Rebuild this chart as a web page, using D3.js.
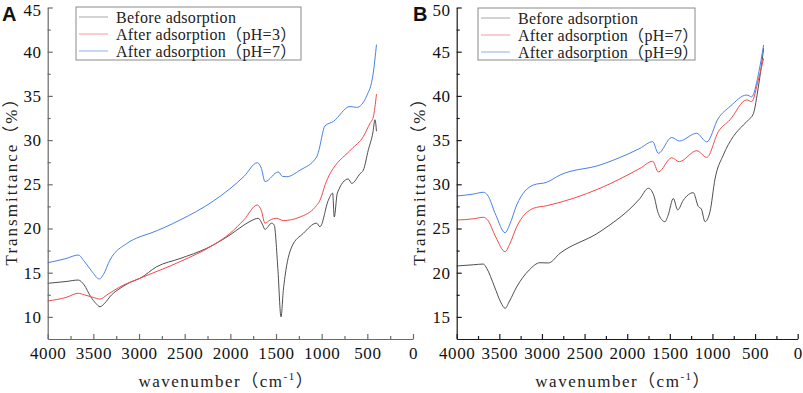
<!DOCTYPE html>
<html>
<head>
<meta charset="utf-8">
<script src="https://cdn.jsdelivr.net/npm/d3@7/dist/d3.min.js"></script>
<style>
  body { margin: 0; background: #fff; }
  svg { display: block; }
</style>
</head>
<body>
<svg id="chart" width="803" height="393"></svg>
<script>
// ---- panel A data (wavenumber cm-1, transmittance %) ----
const aBeforeWn = [4000, 3800, 3665, 3600, 3530, 3470, 3427, 3380, 3300, 3208, 3100, 2989, 2806, 2551, 2259, 2004, 1850, 1785, 1694, 1650, 1621, 1548, 1520, 1480, 1445, 1420, 1402, 1329, 1201, 1055, 1019, 927, 880, 862, 829, 709, 671, 580, 544, 489, 440, 416, 400];
const aBeforeT = [13.8, 14.0, 14.17, 13.6, 12.3, 11.5, 11.15, 11.5, 12.5, 13.23, 13.9, 14.37, 15.68, 16.6, 17.76, 19.27, 20.4, 20.8, 21.15, 20.5, 19.9, 20.6, 20.4, 15.5, 10.0, 13.0, 14.55, 17.9, 19.45, 20.6, 20.2, 23.2, 24.0, 21.3, 24.0, 25.6, 25.1, 26.2, 26.6, 28.9, 30.8, 32.3, 31.0];

const aPh3Wn = [4000, 3800, 3665, 3600, 3500, 3427, 3350, 3208, 2989, 2551, 2187, 2004, 1850, 1705, 1660, 1621, 1565, 1493, 1420, 1237, 1073, 1018, 960, 909, 873, 671, 544, 471, 435, 400];
const aPh3T = [11.8, 12.2, 12.67, 12.5, 12.2, 12.02, 12.5, 13.4, 14.37, 16.25, 18.13, 19.45, 21.0, 22.66, 22.0, 20.6, 20.96, 21.15, 20.9, 21.3, 22.4, 23.2, 25.0, 26.2, 26.8, 29.0, 30.4, 31.9, 32.6, 35.2];

const aPh7Wn = [4000, 3800, 3665, 3600, 3520, 3435, 3390, 3318, 3135, 2989, 2880, 2551, 2187, 2004, 1850, 1705, 1660, 1621, 1475, 1430, 1383, 1237, 1055, 1037, 964, 873, 690, 617, 507, 435, 400];
const aPh7T = [16.13, 16.6, 17.0, 16.3, 15.2, 14.29, 14.8, 16.44, 18.3, 19.07, 19.45, 20.96, 23.1, 24.5, 25.9, 27.44, 26.8, 25.3, 26.4, 25.9, 25.86, 26.6, 28.1, 28.6, 31.6, 32.1, 33.8, 33.7, 35.0, 37.6, 40.8];

// ---- panel B data ----
const bBeforeWn = [4000, 3800, 3688, 3648, 3560, 3480, 3433, 3380, 3296, 3150, 3023, 2925, 2788, 2319, 1850, 1752, 1690, 1635, 1557, 1520, 1459, 1408, 1342, 1225, 1166, 1130, 1087, 1029, 970, 873, 756, 638, 579, 520, 462, 411, 400];
const bBeforeT = [20.76, 20.9, 20.98, 20.5, 18.5, 16.6, 15.97, 16.8, 18.4, 20.3, 21.13, 21.1, 22.2, 24.64, 28.4, 29.55, 28.8, 26.7, 25.77, 26.5, 28.4, 27.1, 28.2, 29.05, 27.5, 27.2, 25.77, 26.9, 30.6, 33.3, 35.4, 36.7, 37.27, 38.0, 41.0, 44.5, 45.4];

const bPh7Wn = [4000, 3800, 3688, 3640, 3540, 3433, 3380, 3296, 3101, 2944, 2319, 1850, 1701, 1635, 1478, 1389, 1185, 1067, 931, 794, 598, 540, 462, 400];
const bPh7T = [25.96, 26.1, 26.27, 26.0, 24.0, 22.38, 23.2, 25.2, 27.28, 27.58, 29.55, 31.8, 32.6, 31.4, 33.0, 32.56, 33.8, 33.05, 35.95, 37.3, 39.55, 39.35, 41.8, 44.25];

const bPh9Wn = [4000, 3800, 3688, 3640, 3540, 3433, 3380, 3296, 3101, 2944, 2788, 2319, 1850, 1701, 1635, 1478, 1389, 1185, 1067, 931, 794, 598, 540, 462, 400];
const bPh9T = [28.68, 28.9, 29.1, 28.8, 26.5, 24.52, 25.4, 27.66, 29.92, 30.23, 31.05, 32.18, 34.07, 34.82, 33.5, 35.3, 34.9, 35.77, 34.8, 37.47, 38.8, 40.1, 39.9, 42.4, 45.76];

const xTicks = [4000, 3500, 3000, 2500, 2000, 1500, 1000, 500, 0];
const xMinor = [3750, 3250, 2750, 2250, 1750, 1250, 750, 250];
const aYTicks = [10, 15, 20, 25, 30, 35, 40, 45];
const aYMinor = [12.5, 17.5, 22.5, 27.5, 32.5, 37.5, 42.5];
const bYTicks = [15, 20, 25, 30, 35, 40, 45, 50];
const bYMinor = [17.5, 22.5, 27.5, 32.5, 37.5, 42.5, 47.5];

const aLabels = ['Before adsorption', 'After adsorption（pH=3）', 'After adsorption（pH=7）'];
const bLabels = ['Before adsorption', 'After adsorption（pH=7）', 'After adsorption（pH=9）'];
const colors = ['#4f4f4f', '#f24a4a', '#4b80e6'];
const legendColors = ['#a8a8a8', '#f79a9a', '#8db0ee'];

const svg = d3.select('#chart');
const serif = '"Liberation Serif", "Noto Sans CJK SC", serif';

const panels = [
  {
    tag: 'A', x0: 47.7, x1: 413, yDomain: [7.5, 45], yTicks: aYTicks, yMinor: aYMinor,
    axisColor: '#6a6a6a', labels: aLabels, tagX: 2, yTitleX: 11, legend: [76, 7, 225, 53],
    series: [[aBeforeWn, aBeforeT], [aPh3Wn, aPh3T], [aPh7Wn, aPh7T]]
  },
  {
    tag: 'B', x0: 456.7, x1: 797.7, yDomain: [12.5, 50], yTicks: bYTicks, yMinor: bYMinor,
    axisColor: '#1a1a1a', labels: bLabels, tagX: 413, yTitleX: 419, legend: [478, 8, 217, 52],
    series: [[bBeforeWn, bBeforeT], [bPh7Wn, bPh7T], [bPh9Wn, bPh9T]]
  }
];

const yTop = 7.5;
const yBottom = 339;

panels.forEach((p) => {
  const x = d3.scaleLinear().domain([4000, 0]).range([p.x0, p.x1]);
  const y = d3.scaleLinear().domain(p.yDomain).range([yBottom, yTop]);
  const g = svg.append('g');

  // curves
  const line = d3.line()
    .x(d => x(d[0]))
    .y(d => y(d[1]))
    .curve(d3.curveMonotoneX);
  p.series.forEach((s, i) => {
    const pts = s[0].map((w, k) => [w, s[1][k]]);
    g.append('path')
      .datum(pts)
      .attr('d', line)
      .attr('fill', 'none')
      .attr('stroke', colors[i])
      .attr('stroke-width', 1);
  });

  // axes (ticks point inward)
  const xAxis = g.append('g')
    .attr('transform', `translate(0,${yBottom})`)
    .call(d3.axisBottom(x).tickValues(xTicks).tickSizeInner(-5).tickSizeOuter(0).tickPadding(8).tickFormat(d3.format('d')));
  g.append('g')
    .attr('transform', `translate(0,${yBottom})`)
    .call(d3.axisBottom(x).tickValues(xMinor).tickSizeInner(-3).tickSizeOuter(0).tickFormat(''))
    .select('.domain').remove();
  const yAxis = g.append('g')
    .attr('transform', `translate(${p.x0},0)`)
    .call(d3.axisLeft(y).tickValues(p.yTicks).tickSizeInner(-5).tickSizeOuter(0).tickPadding(6));
  g.append('g')
    .attr('transform', `translate(${p.x0},0)`)
    .call(d3.axisLeft(y).tickValues(p.yMinor).tickSizeInner(-3).tickSizeOuter(0).tickFormat(''))
    .select('.domain').remove();

  g.selectAll('.domain, .tick line').attr('stroke', p.axisColor).attr('stroke-width', 1.2);
  [xAxis, yAxis].forEach((ax) => {
    ax.selectAll('text')
      .attr('fill', '#111')
      .style('font-family', serif)
      .style('font-size', '17px')
      .style('letter-spacing', '0.6px');
  });
  // keep the top label inside the picture
  yAxis.selectAll('.tick text').filter(d => d === p.yDomain[1]).attr('dy', '0.45em');

  // axis titles
  const xt = g.append('text')
    .attr('x', (p.x0 + p.x1) / 2 - 4)
    .attr('y', 387)
    .attr('text-anchor', 'middle')
    .style('font-family', serif)
    .style('font-size', '17px')
    .style('letter-spacing', '1.5px')
    .attr('fill', '#222');
  xt.append('tspan').text('wavenumber（cm');
  xt.append('tspan').attr('dy', -7).style('font-size', '11px').text('-1');
  xt.append('tspan').attr('dy', 7).text('）');

  g.append('text')
    .attr('transform', `translate(${p.yTitleX},177) rotate(-90)`)
    .attr('text-anchor', 'middle')
    .attr('dy', '0.35em')
    .style('font-family', serif)
    .style('font-size', '17px')
    .style('letter-spacing', '2px')
    .attr('fill', '#222')
    .text('Transmittance（%）');

  // panel tag
  g.append('text')
    .attr('x', p.tagX)
    .attr('y', 21)
    .style('font-family', '"Liberation Sans", Arial, sans-serif')
    .style('font-weight', 'bold')
    .style('font-size', '20px')
    .attr('fill', '#111')
    .text(p.tag);

  // legend
  const [lx, ly, lw, lh] = p.legend;
  const lg = g.append('g').attr('transform', `translate(${lx},${ly})`);
  lg.append('rect')
    .attr('width', lw).attr('height', lh)
    .attr('fill', '#fff')
    .attr('stroke', '#8a8a8a')
    .attr('stroke-width', 1);
  p.labels.forEach((lab, i) => {
    const cy = 10 + i * 17;
    lg.append('line')
      .attr('x1', 3).attr('x2', 32)
      .attr('y1', cy).attr('y2', cy)
      .attr('stroke', legendColors[i])
      .attr('stroke-width', 1);
    lg.append('text')
      .attr('x', 40)
      .attr('y', cy)
      .attr('dy', '0.35em')
      .style('font-family', serif)
      .style('font-size', '16px')
      .style('letter-spacing', '0.3px')
      .attr('fill', '#222')
      .text(lab);
  });
});
</script>
</body>
</html>
